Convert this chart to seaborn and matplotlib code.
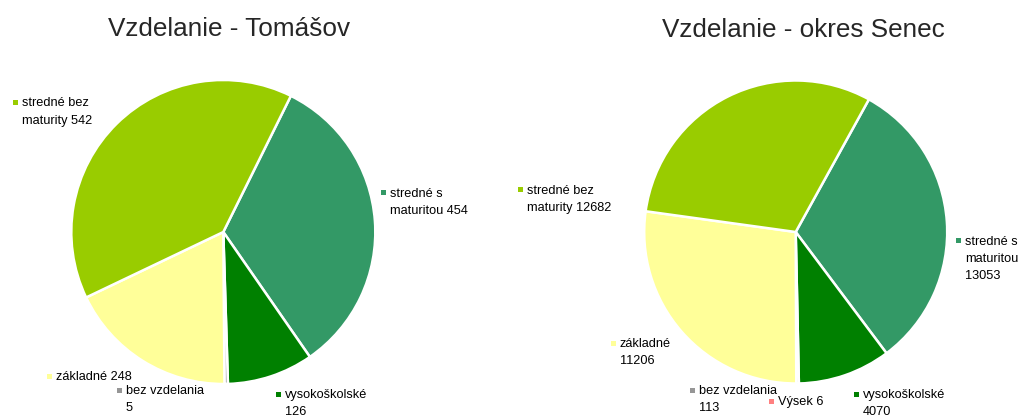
import matplotlib
matplotlib.use("Agg")
import matplotlib.pyplot as plt
from matplotlib.patches import Rectangle
import seaborn as sns

# data
categories = ["stredné s maturitou", "vysokoškolské", "bez vzdelania", "Výsek 6",
              "základné", "stredné bez maturity"]
tomasov_vals = [454, 126, 5, 0, 248, 542]
senec_vals = [13053, 4070, 113, 0, 11206, 12682]
colors = ["#339966", "#008000", "#969696", "#FF8080", "#FFFF99", "#99CC00"]

W, H = 1020, 415

sns.set_theme(style="white")
plt.rcParams["font.family"] = ["Liberation Sans", "DejaVu Sans"]

fig = plt.figure(figsize=(W / 100, H / 100), dpi=100)


def px(x, y):
    return x / W, 1 - y / H


def pie_axes(cx, cy, r):
    ax = fig.add_axes([(cx - r) / W, (H - cy - r) / H, 2 * r / W, 2 * r / H])
    ax.set_xlim(-1, 1)
    ax.set_ylim(-1, 1)
    ax.set_aspect("equal")
    ax.axis("off")
    return ax


def draw_pie(ax, vals, start):
    keep = [(v, c) for v, c in zip(vals, colors) if v > 0]
    ax.pie([v for v, _ in keep], colors=[c for _, c in keep], startangle=start,
           counterclock=False, radius=1.0,
           wedgeprops=dict(edgecolor="white", linewidth=1.8))
    ax.set_xlim(-1, 1)
    ax.set_ylim(-1, 1)


def label(x, y, text, color):
    # x, y: left edge of text and vertical centre of first line, in pixels
    fx, fy = px(x, y - 5.5)
    fig.text(fx, fy, text, fontsize=9.2, va="top", ha="left", color="#000000",
             linespacing=1.6)
    mx, my = px(x - 9, y + 2.5)
    fig.patches.append(Rectangle((mx, my), 5 / W, 5 / H, transform=fig.transFigure,
                                 facecolor=color, edgecolor="none"))


ax1 = pie_axes(223.3, 232, 152)
draw_pie(ax1, tomasov_vals, 63.6)
ax2 = pie_axes(795.7, 232, 151.5)
draw_pie(ax2, senec_vals, 61.1)

fig.text(*px(229.5, 29), "Vzdelanie - Tomášov", fontsize=18.8, ha="center", va="center")
fig.text(*px(803.5, 30), "Vzdelanie - okres Senec", fontsize=18.8, ha="center", va="center")

# Tomášov labels
label(22, 103, f"stredné bez\nmaturity {tomasov_vals[5]}", colors[5])
label(390, 193, f"stredné s\nmaturitou {tomasov_vals[0]}", colors[0])
label(56, 376, f"základné {tomasov_vals[4]}", colors[4])
label(126, 390, f"bez vzdelania\n{tomasov_vals[2]}", colors[2])
label(285, 394, f"vysokoškolské\n{tomasov_vals[1]}", colors[1])

# Senec labels
label(527, 190, f"stredné bez\nmaturity {senec_vals[5]}", colors[5])
label(965, 241, f"stredné s\nmaturitou\n{senec_vals[0]}", colors[0])
label(620, 343, f"základné\n{senec_vals[4]}", colors[4])
label(699, 390, f"bez vzdelania\n{senec_vals[2]}", colors[2])
label(778, 401, "Výsek 6", colors[3])
label(863, 394, f"vysokoškolské\n{senec_vals[1]}", colors[1])

fig.savefig("out.png", dpi=100)
